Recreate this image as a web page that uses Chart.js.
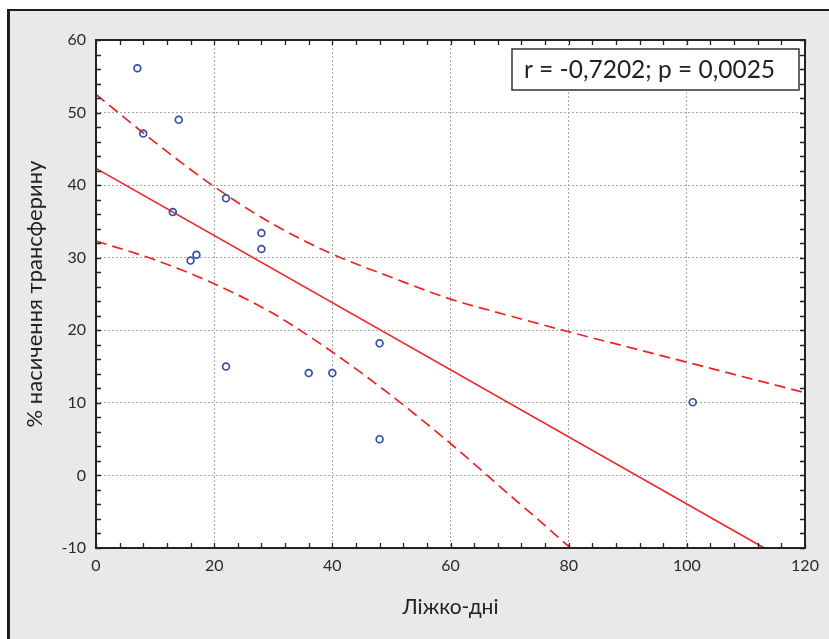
<!DOCTYPE html>
<html>
<head>
<meta charset="utf-8">
<script src="https://cdn.jsdelivr.net/npm/chart.js@4/dist/chart.umd.min.js"></script>
<style>
  html, body { margin: 0; padding: 0; background: #ffffff; overflow: hidden; }
  #panel { position: absolute; left: 7px; top: 9px; width: 900px; height: 700px;
           background: #E8E9EB; border-left: 3px solid #1e1e1e; border-top: 2px solid #1e1e1e; }
  #c { position: absolute; left: 0; top: 0; }
</style>
</head>
<body>
<div id="panel"></div>
<canvas id="c" width="829" height="639"></canvas>
<script>
// ---- data ----
const xDays = [7, 8, 14, 13, 16, 17, 22, 22, 28, 28, 36, 40, 48, 48, 101];
const ySat  = [56.1, 47.1, 49.0, 36.3, 29.6, 30.4, 38.2, 15.0, 33.4, 31.2, 14.1, 14.1, 18.2, 5.0, 10.1];

const fitX = [0, 113.1];
const fitY = [42.3, -10];

const upperX = [0, 10, 20, 30, 40, 50, 60, 70, 80, 90, 100, 110, 120];
const upperY = [52.5, 45.9, 39.8, 34.6, 30.5, 27.3, 24.3, 22.0, 19.8, 17.7, 15.6, 13.5, 11.4];

const lowerX = [0, 10, 20, 30, 40, 50, 60, 70, 75, 80.3];
const lowerY = [32.3, 29.7, 26.4, 22.3, 17.0, 11.0, 4.4, -2.7, -6.2, -10];

const xTitle = 'Ліжко-дні';
const yTitle = '% насичення трансферину';
const statText = 'r = -0,7202; p = 0,0025';

const xMin = 0, xMax = 120, xStep = 20, xMinor = 4;
const yMin = -10, yMax = 60, yStep = 10, yMinor = 2;

const pts = (xs, ys) => xs.map((x, i) => ({x, y: ys[i]}));
const FONT = 'Lato, "Open Sans", "DejaVu Sans", sans-serif';

const framePlugin = {
  id: 'framePlugin',
  beforeDraw(chart) {
    const {ctx, chartArea: a} = chart;
    ctx.save();
    ctx.fillStyle = '#ffffff';
    ctx.fillRect(a.left, a.top, a.right - a.left, a.bottom - a.top);
    ctx.restore();
  },
  afterDraw(chart) {
    const {ctx, chartArea: a, scales} = chart;
    const sx = scales.x, sy = scales.y;
    ctx.save();
    // minor/major ticks pointing inward on all sides
    ctx.strokeStyle = '#222';
    ctx.lineWidth = 1.3;
    ctx.beginPath();
    const tl = 5;
    for (let v = xMin; v <= xMax + 1e-9; v += xMinor) {
      const px = Math.round(sx.getPixelForValue(v)) + 0.5;
      ctx.moveTo(px, a.bottom); ctx.lineTo(px, a.bottom - tl);
      ctx.moveTo(px, a.top); ctx.lineTo(px, a.top + tl);
    }
    for (let v = yMin; v <= yMax + 1e-9; v += yMinor) {
      const py = Math.round(sy.getPixelForValue(v)) + 0.5;
      ctx.moveTo(a.left, py); ctx.lineTo(a.left + tl, py);
      ctx.moveTo(a.right, py); ctx.lineTo(a.right - tl, py);
    }
    ctx.stroke();
    // frame
    ctx.strokeStyle = '#222';
    ctx.lineWidth = 2;
    ctx.strokeRect(a.left, a.top, a.right - a.left, a.bottom - a.top);
    // statistics box
    const bw = 287, bh = 41;
    const bx = a.right - 6 - bw, by = a.top + 9;
    ctx.fillStyle = '#ffffff';
    ctx.fillRect(bx, by, bw, bh);
    ctx.strokeStyle = '#333';
    ctx.lineWidth = 1.5;
    ctx.strokeRect(bx, by, bw, bh);
    ctx.fillStyle = '#222';
    ctx.font = '24.5px ' + FONT;
    ctx.textAlign = 'center';
    ctx.textBaseline = 'middle';
    ctx.fillText(statText, bx + bw / 2 - 6, by + bh / 2 + 1);
    ctx.restore();
  }
};

new Chart(document.getElementById('c'), {
  type: 'scatter',
  data: {
    datasets: [
      {
        label: 'points',
        data: pts(xDays, ySat),
        showLine: false,
        pointStyle: 'circle',
        pointRadius: 3.4,
        pointBorderWidth: 1.7,
        pointBorderColor: '#3550A6',
        pointBackgroundColor: 'rgba(255,255,255,0)',
        order: 0
      },
      {
        label: 'fit',
        data: pts(fitX, fitY),
        showLine: true,
        borderColor: '#EE2326',
        borderWidth: 1.6,
        pointRadius: 0,
        order: 1
      },
      {
        label: 'upper',
        data: pts(upperX, upperY),
        showLine: true,
        borderColor: '#EE2326',
        borderWidth: 1.7,
        borderDash: [11, 6],
        cubicInterpolationMode: 'monotone',
        pointRadius: 0,
        order: 2
      },
      {
        label: 'lower',
        data: pts(lowerX, lowerY),
        showLine: true,
        borderColor: '#EE2326',
        borderWidth: 1.7,
        borderDash: [11, 6],
        cubicInterpolationMode: 'monotone',
        pointRadius: 0,
        order: 3
      }
    ]
  },
  options: {
    responsive: false,
    animation: false,
    devicePixelRatio: 1,
    layout: { padding: { left: 0, top: 40, right: 24, bottom: 0 } },
    plugins: { legend: { display: false }, tooltip: { enabled: false } },
    scales: {
      x: {
        type: 'linear', min: xMin, max: xMax,
        afterFit(s) { s.height = 91; },
        ticks: { stepSize: xStep, padding: 8, color: '#2a2a2a', font: { family: FONT, size: 16 } },
        grid: { color: '#a8a8a8', lineWidth: 1, drawTicks: false },
        border: { display: false, dash: [2, 2] },
        title: { display: true, text: xTitle, color: '#222', font: { family: FONT, size: 21 }, padding: { top: 0, bottom: 19 } }
      },
      y: {
        type: 'linear', min: yMin, max: yMax,
        afterFit(s) { s.width = 96; },
        ticks: { stepSize: yStep, padding: 10, color: '#2a2a2a', font: { family: FONT, size: 16 } },
        grid: { color: '#a8a8a8', lineWidth: 1, drawTicks: false },
        border: { display: false, dash: [2, 2] },
        title: { display: true, text: yTitle, color: '#222', font: { family: FONT, size: 22 }, padding: { top: 22, bottom: 0 } }
      }
    }
  },
  plugins: [framePlugin]
});
</script>
</body>
</html>
